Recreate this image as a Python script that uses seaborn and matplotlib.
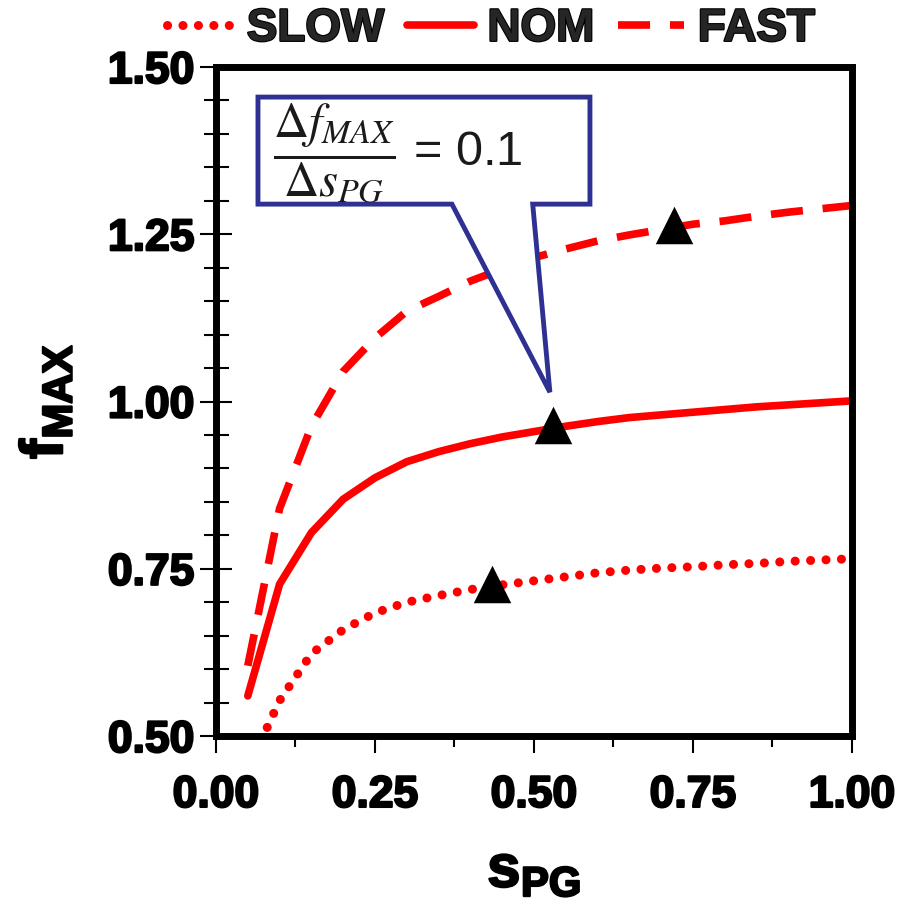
import matplotlib
matplotlib.use("Agg")
import matplotlib.pyplot as plt
import matplotlib.patheffects as pe
from matplotlib.patches import Polygon
from matplotlib.ticker import MultipleLocator
import seaborn as sns
import pandas as pd

# ---- data ----
s_pg = [0.05, 0.10, 0.15, 0.20, 0.25, 0.30, 0.35, 0.40, 0.45, 0.50,
        0.55, 0.60, 0.65, 0.70, 0.75, 0.80, 0.85, 0.90, 0.95, 1.00]
f_slow = [0.450, 0.553, 0.623, 0.659, 0.684, 0.700, 0.710, 0.719, 0.726, 0.732,
          0.738, 0.744, 0.748, 0.751, 0.753, 0.756, 0.758, 0.761, 0.763, 0.765]
f_nom = [0.560, 0.727, 0.804, 0.854, 0.886, 0.910, 0.925, 0.937, 0.947, 0.955,
         0.963, 0.970, 0.976, 0.980, 0.984, 0.988, 0.992, 0.995, 0.998, 1.001]
f_fast = [0.605, 0.840, 0.963, 1.045, 1.095, 1.135, 1.157, 1.180, 1.198, 1.215,
          1.228, 1.240, 1.249, 1.257, 1.265, 1.270, 1.277, 1.283, 1.288, 1.293]
series_names = ["SLOW", "NOM", "FAST"]

marker_x = [0.434, 0.530, 0.720]
marker_y = [0.727, 0.965, 1.264]

x_ticks = [0.00, 0.25, 0.50, 0.75, 1.00]
y_ticks = [0.50, 0.75, 1.00, 1.25, 1.50]
annot_text = r"$\dfrac{\Delta f_{MAX}}{\Delta s_{PG}}$ = 0.1"

# ---- style ----
sns.set_theme(style="white")
plt.rcParams["font.family"] = ["Liberation Sans", "DejaVu Sans"]
plt.rcParams["mathtext.fontset"] = "custom"
plt.rcParams["mathtext.rm"] = "Liberation Sans:bold"
plt.rcParams["mathtext.bf"] = "Liberation Sans:bold"
plt.rcParams["mathtext.it"] = "Liberation Sans:bold"

fig = plt.figure(figsize=(9.03, 9.04), dpi=100)
ax = fig.add_axes([0.2392, 0.1847, 0.7043, 0.7401])

df = pd.DataFrame({"s": s_pg, "SLOW": f_slow, "NOM": f_nom, "FAST": f_fast})

red = "#FF0000"
lw = 5.5
sns.lineplot(data=df, x="s", y="SLOW", ax=ax, color=red, linewidth=6.5,
             linestyle=(0, (0.01, 1.7)), dash_capstyle="round", label="SLOW")
sns.lineplot(data=df, x="s", y="NOM", ax=ax, color=red, linewidth=lw,
             linestyle="-", label="NOM")
sns.lineplot(data=df, x="s", y="FAST", ax=ax, color=red, linewidth=lw,
             linestyle=(0, (4.2, 2.6)), dash_capstyle="butt", label="FAST")

sns.scatterplot(x=marker_x, y=marker_y, ax=ax, marker="^", s=27**2,
                color="black", edgecolor="black", linewidth=0, zorder=5,
                legend=False)

ax.set_xlim(0, 1)
ax.set_ylim(0.5, 1.5)

# spines
for sp in ax.spines.values():
    sp.set_linewidth(5)
    sp.set_color("black")
    sp.set_capstyle("projecting")

ax.xaxis.set_major_locator(MultipleLocator(0.25))
ax.xaxis.set_minor_locator(MultipleLocator(0.125))
ax.yaxis.set_major_locator(MultipleLocator(0.25))
ax.yaxis.set_minor_locator(MultipleLocator(0.05))
ax.set_xticks(x_ticks)
ax.set_yticks(y_ticks)
ax.set_xticklabels([f"{v:.2f}" for v in x_ticks])
ax.set_yticklabels([f"{v:.2f}" for v in y_ticks])

ax.tick_params(axis="x", which="major", direction="out", length=12, width=1.5,
               color="black", pad=16, bottom=True)
ax.tick_params(axis="x", which="minor", direction="out", length=8, width=1.5,
               color="black", bottom=True)
ax.tick_params(axis="y", which="major", direction="inout", length=23, width=1.5,
               color="black", pad=4, left=True)
ax.tick_params(axis="y", which="minor", direction="inout", length=18, width=1.5,
               color="black", left=True)

stroke = [pe.withStroke(linewidth=1.6, foreground="black")]
for lab in ax.get_xticklabels() + ax.get_yticklabels():
    lab.set_fontsize(32)
    lab.set_fontweight("bold")
    lab.set_color("black")
    lab.set_path_effects(stroke)

ax.set_xlabel(r"$\mathbf{s}_{\mathbf{PG}}$", fontsize=43, color="black", labelpad=20)
ax.set_ylabel(r"$\mathbf{f}_{\mathbf{MAX}}$", fontsize=43, color="black", labelpad=24)
ax.xaxis.label.set_path_effects(stroke)
ax.yaxis.label.set_path_effects(stroke)

# legend
leg = ax.legend(loc="center", bbox_to_anchor=(0.432, 1.057), ncol=3,
                frameon=False, fontsize=33, handlelength=1.45,
                handletextpad=0.3, columnspacing=0.5, borderpad=0,
                borderaxespad=0)
for t in leg.get_texts():
    t.set_fontweight("bold")
    t.set_path_effects(stroke)

# callout annotation
navy = "#2E3192"
callout = [(0.066, 1.455), (0.588, 1.455), (0.588, 1.295), (0.498, 1.295),
           (0.525, 1.014), (0.371, 1.295), (0.066, 1.295)]
ax.add_patch(Polygon(callout, closed=True, facecolor="white", edgecolor=navy,
                     linewidth=3.5, joinstyle="miter", zorder=6))
ax.text(0.090, 1.372, annot_text, fontsize=35, color="#1a1a1a",
        family=["Liberation Sans", "DejaVu Sans"], math_fontfamily="stix",
        ha="left", va="center", zorder=7)

fig.savefig("out.png", dpi=100, facecolor="white")
